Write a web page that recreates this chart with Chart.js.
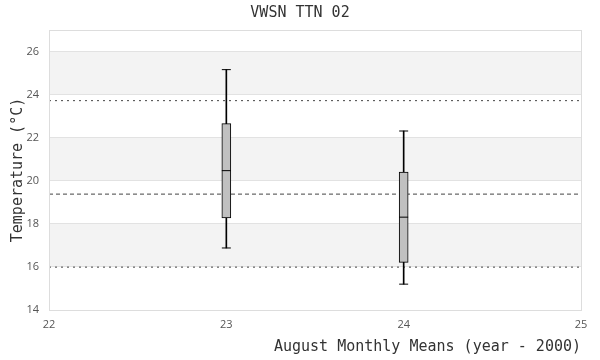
<!DOCTYPE html>
<html>
<head>
<meta charset="utf-8">
<script src="https://cdn.jsdelivr.net/npm/chart.js@4/dist/chart.umd.min.js"></script>
<style>
  html, body { margin: 0; padding: 0; background: #fff; }
  #wrap { width: 600px; height: 360px; }
</style>
</head>
<body>
<div id="wrap"><canvas id="boxChart"></canvas></div>
<script>
// August monthly means, year - 2000
const years = [23, 24];
const whiskerLow = [16.88, 15.2];
const q1 = [18.28, 16.21];
const median = [20.47, 18.31];
const q3 = [22.65, 20.4];
const whiskerHigh = [25.16, 22.31];

// horizontal reference lines
const meanLine = 19.38;
const upperLine = 23.72;
const lowerLine = 15.99;

const xTicks = [22, 23, 24, 25];
const yTicks = [14, 16, 18, 20, 22, 24, 26];

const monoFont = "'DejaVu Sans Mono', monospace";

// shaded bands between every other pair of y ticks + frame round the plot
const bandPlugin = {
  id: 'bands',
  beforeDraw(chart) {
    const { ctx, chartArea, scales } = chart;
    ctx.save();
    ctx.fillStyle = '#f3f3f3';
    for (let i = 1; i < yTicks.length - 1; i += 2) {
      const top = scales.y.getPixelForValue(yTicks[i + 1]);
      const bottom = scales.y.getPixelForValue(yTicks[i]);
      ctx.fillRect(chartArea.left, top, chartArea.right - chartArea.left, bottom - top);
    }
    ctx.restore();
  },
  afterDraw(chart) {
    const { ctx, chartArea } = chart;
    ctx.save();
    ctx.strokeStyle = '#dddddd';
    ctx.lineWidth = 1;
    ctx.strokeRect(Math.round(chartArea.left) + 0.5, Math.round(chartArea.top) + 0.5,
      Math.round(chartArea.right - chartArea.left), Math.round(chartArea.bottom - chartArea.top));
    ctx.restore();
  }
};

function hLine(v) {
  return [{ x: xTicks[0], y: v }, { x: xTicks[xTicks.length - 1], y: v }];
}

const ctx = document.getElementById('boxChart').getContext('2d');
const boxChart = new Chart(ctx, {
  type: 'bar',
  data: {
    datasets: [
      {
        type: 'line',
        data: hLine(upperLine),
        borderColor: '#444',
        borderWidth: 1,
        borderDash: [2, 4],
        pointRadius: 0,
        order: 5
      },
      {
        type: 'line',
        data: hLine(meanLine),
        borderColor: '#444',
        borderWidth: 1,
        borderDash: [4, 3],
        pointRadius: 0,
        order: 5
      },
      {
        type: 'line',
        data: hLine(lowerLine),
        borderColor: '#444',
        borderWidth: 1,
        borderDash: [2, 4],
        pointRadius: 0,
        order: 5
      },
      {
        // whiskers
        data: years.map((x, i) => ({ x: x, y: [whiskerLow[i], whiskerHigh[i]] })),
        backgroundColor: '#000',
        borderWidth: 0,
        barThickness: 1,
        grouped: false,
        order: 4
      },
      {
        // boxes
        data: years.map((x, i) => ({ x: x, y: [q1[i], q3[i]] })),
        backgroundColor: '#c0c0c0',
        borderColor: '#000',
        borderWidth: 1,
        borderSkipped: false,
        barThickness: 9,
        grouped: false,
        order: 3
      },
      {
        // whisker caps
        type: 'scatter',
        data: years.flatMap((x, i) => [{ x: x, y: whiskerLow[i] }, { x: x, y: whiskerHigh[i] }]),
        pointStyle: 'line',
        pointRadius: 4.5,
        borderColor: '#000',
        borderWidth: 1,
        order: 2
      },
      {
        // medians
        type: 'scatter',
        data: years.map((x, i) => ({ x: x, y: median[i] })),
        pointStyle: 'line',
        pointRadius: 4.5,
        borderColor: '#000',
        borderWidth: 1,
        order: 1
      }
    ]
  },
  plugins: [bandPlugin],
  options: {
    responsive: true,
    maintainAspectRatio: false,
    animation: false,
    layout: { padding: 0 },
    plugins: {
      legend: { display: false },
      tooltip: { enabled: false },
      title: {
        display: true,
        text: 'VWSN TTN 02',
        color: '#333',
        font: { family: monoFont, size: 15, weight: 'normal' },
        padding: { top: 4, bottom: 8 }
      }
    },
    scales: {
      x: {
        type: 'linear',
        min: 22,
        max: 25,
        offset: false,
        afterBuildTicks: (scale) => { scale.ticks = xTicks.map(v => ({ value: v })); },
        afterFit: (scale) => { scale.height = 50; },
        grid: { display: false, drawTicks: false, offset: false },
        border: { display: false },
        ticks: { color: '#555', padding: 8, maxRotation: 0, font: { family: "'Open Sans'", size: 11 } },
        title: {
          display: true,
          text: 'August Monthly Means (year - 2000)',
          align: 'end',
          color: '#333',
          font: { family: monoFont, size: 15 },
          padding: { top: 0, bottom: 4 }
        }
      },
      y: {
        min: 14,
        max: 27,
        afterBuildTicks: (scale) => { scale.ticks = yTicks.map(v => ({ value: v })); },
        afterFit: (scale) => { scale.width = 49; },
        grid: { color: '#e2e2e2', drawTicks: false },
        border: { display: false },
        ticks: { color: '#555', padding: 10, font: { family: "'Open Sans'", size: 11 } },
        title: {
          display: true,
          text: 'Temperature (°C)',
          color: '#333',
          font: { family: monoFont, size: 15 },
          padding: { top: 9, bottom: 2 }
        }
      },
      yRight: {
        position: 'right',
        min: 14,
        max: 27,
        afterFit: (scale) => { scale.width = 19; },
        grid: { display: false, drawTicks: false },
        border: { display: false },
        ticks: { display: false }
      }
    }
  }
});
</script>
</body>
</html>
